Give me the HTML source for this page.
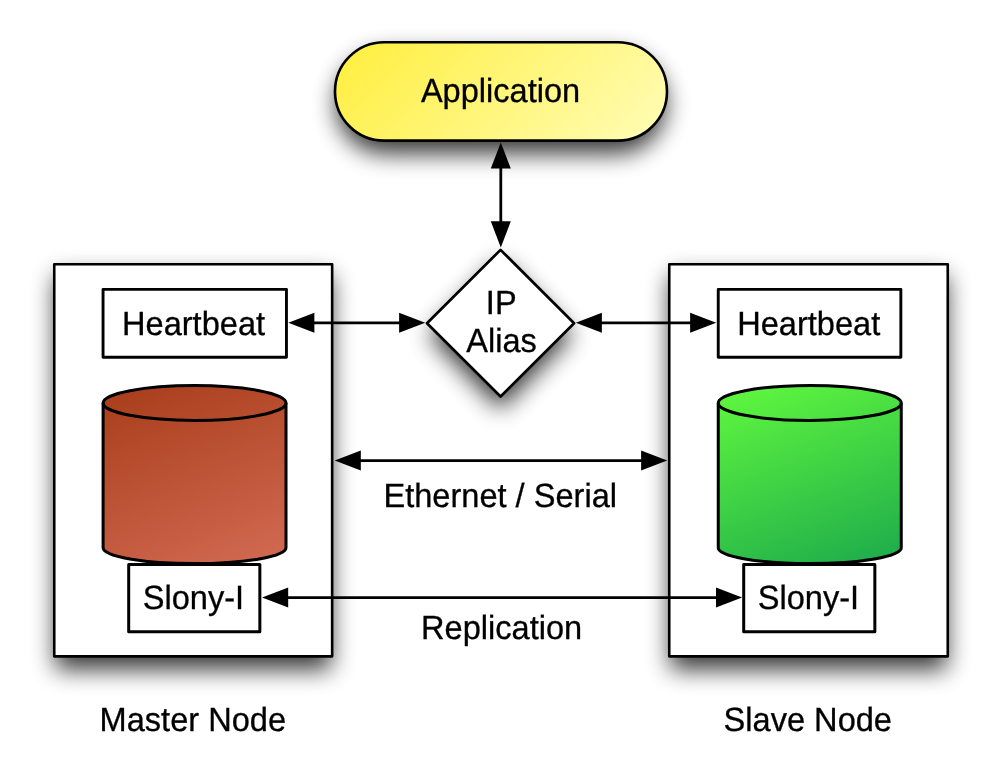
<!DOCTYPE html>
<html><head><meta charset="utf-8">
<style>
html,body{margin:0;padding:0;background:#fff;}
svg{display:block;will-change:transform;}
rect,polygon{stroke-linejoin:round;}
text{text-rendering:geometricPrecision;}
text{font-family:"Liberation Sans",sans-serif;font-size:32px;fill:#000;stroke:#000;stroke-width:0.30px;}
</style></head>
<body>
<svg width="1002" height="768" viewBox="0 0 1002 768">
<defs>
  <filter id="sh" x="-50%" y="-50%" width="200%" height="200%">
    <feGaussianBlur stdDeviation="11.51"/>
  </filter>
  <linearGradient id="gy" gradientUnits="userSpaceOnUse" x1="333.7" y1="41.3" x2="551" y2="258.6">
    <stop offset="0" stop-color="#FFEE3C"/>
    <stop offset="1" stop-color="#FFFDB8"/>
  </linearGradient>
  <linearGradient id="gr" gradientUnits="userSpaceOnUse" x1="102" y1="384" x2="190.5" y2="603.0">
    <stop offset="0" stop-color="#A63C18"/>
    <stop offset="1" stop-color="#D36B54"/>
  </linearGradient>
  <linearGradient id="gg" gradientUnits="userSpaceOnUse" x1="717" y1="384" x2="796.5" y2="602.4">
    <stop offset="0" stop-color="#62FA3E"/>
    <stop offset="1" stop-color="#1CAA4B"/>
  </linearGradient>
</defs>

<!-- shadows -->
<g filter="url(#sh)" opacity="0.780">
  <rect x="55.39" y="275.72" width="275.62" height="393.80" fill="#000"/>
  <rect x="670.39" y="275.72" width="276.22" height="393.80" fill="#000"/>
  <rect x="336.09" y="53.72" width="329.82" height="100.15" rx="50.07" ry="50.07" fill="#000"/>
  <polygon points="500.55,261.49 572.02,335.52 500.55,409.55 429.08,335.52" fill="#000"/>
</g>
<!-- node boxes -->
<rect x="54.25" y="264.25" width="277.9" height="392.1" fill="#fff" stroke="#000" stroke-width="2.6"/>
<rect x="669.25" y="264.25" width="278.5" height="392.1" fill="#fff" stroke="#000" stroke-width="2.6"/>

<!-- application -->
<rect x="335" y="42.3" width="332" height="98.35" rx="49.175" ry="49.175" fill="url(#gy)" stroke="#000" stroke-width="2.6"/>

<!-- heartbeat boxes -->
<rect x="103.05" y="289.35" width="183.4" height="67.9" fill="#fff" stroke="#000" stroke-width="2.9"/>
<rect x="718.25" y="289.35" width="182.6" height="67.9" fill="#fff" stroke="#000" stroke-width="2.9"/>

<!-- slony boxes -->
<rect x="128.7" y="564.4" width="131.15" height="67.45" fill="#fff" stroke="#000" stroke-width="3"/>
<rect x="743.7" y="564.4" width="131.15" height="67.45" fill="#fff" stroke="#000" stroke-width="3"/>

<!-- cylinders -->
<g stroke="#000" stroke-width="3">
  <path d="M103.10,403.00 L103.10,547.70 A91.45,15.90 0 0 0 286.00,547.70 L286.00,403.00 A91.45,17.45 0 0 0 103.10,403.00 Z" fill="url(#gr)"/>
  <path d="M103.10,403.00 A91.45,17.45 0 0 0 286.00,403.00" fill="none"/>
  <path d="M718.25,403.00 L718.25,547.70 A91.50,15.90 0 0 0 901.25,547.70 L901.25,403.00 A91.50,17.45 0 0 0 718.25,403.00 Z" fill="url(#gg)"/>
  <path d="M718.25,403.00 A91.50,17.45 0 0 0 901.25,403.00" fill="none"/>
</g>

<!-- diamond -->
<polygon points="500.55,249.85 574.1,323.2 500.55,396.5 427.0,323.2" fill="#fff" stroke="#000" stroke-width="2.7" stroke-linejoin="round"/>

<!-- arrows -->
<g stroke="#000" stroke-width="2.8" fill="none">
  <line x1="500.8" y1="160" x2="500.8" y2="230"/>
  <line x1="300" y1="322.8" x2="415" y2="322.8"/>
  <line x1="590" y1="322.8" x2="705" y2="322.8"/>
  <line x1="350" y1="460.6" x2="655" y2="460.6"/>
  <line x1="275" y1="597.6" x2="730" y2="597.6"/>
</g>
<g fill="#000">
  <polygon points="500.8,142.5 490.8,168.6 510.8,168.6"/>
  <polygon points="500.8,247.6 490.8,221.3 510.8,221.3"/>
  <polygon points="288.3,322.8 314.4,312.8 314.4,332.8"/>
  <polygon points="425.2,322.8 399.1,312.8 399.1,332.8"/>
  <polygon points="575.8,322.8 601.9,312.8 601.9,332.8"/>
  <polygon points="716.2,322.8 690.1,312.8 690.1,332.8"/>
  <polygon points="334.7,460.6 360.8,450.6 360.8,470.6"/>
  <polygon points="667.2,460.6 641.1,450.6 641.1,470.6"/>
  <polygon points="262.1,597.6 288.2,587.6 288.2,607.6"/>
  <polygon points="742.1,597.6 716,587.6 716,607.6"/>
</g>

<g id="labels">
<text transform="translate(500.55,102.30) scale(1.018,1.05)" text-anchor="middle">Application</text>
<text transform="translate(193.54,334.60) scale(1.018,1.05)" text-anchor="middle">Heartbeat</text>
<text transform="translate(808.69,334.60) scale(1.018,1.05)" text-anchor="middle">Heartbeat</text>
<text transform="translate(193.38,608.50) scale(1.018,1.05)" text-anchor="middle">Slony-I</text>
<text transform="translate(808.38,608.50) scale(1.018,1.05)" text-anchor="middle">Slony-I</text>
<text transform="translate(500.19,507.00) scale(1.018,1.05)" text-anchor="middle">Ethernet / Serial</text>
<text transform="translate(501.65,639.00) scale(1.018,1.05)" text-anchor="middle">Replication</text>
<text transform="translate(192.82,731.00) scale(1.018,1.05)" text-anchor="middle">Master Node</text>
<text transform="translate(807.77,731.00) scale(1.018,1.05)" text-anchor="middle">Slave Node</text>
<text transform="translate(501.23,313.90) scale(1.018,1.05)" text-anchor="middle">IP</text>
<text transform="translate(501.48,351.60) scale(1.018,1.05)" text-anchor="middle">Alias</text>
</g>
</svg>
</body></html>
